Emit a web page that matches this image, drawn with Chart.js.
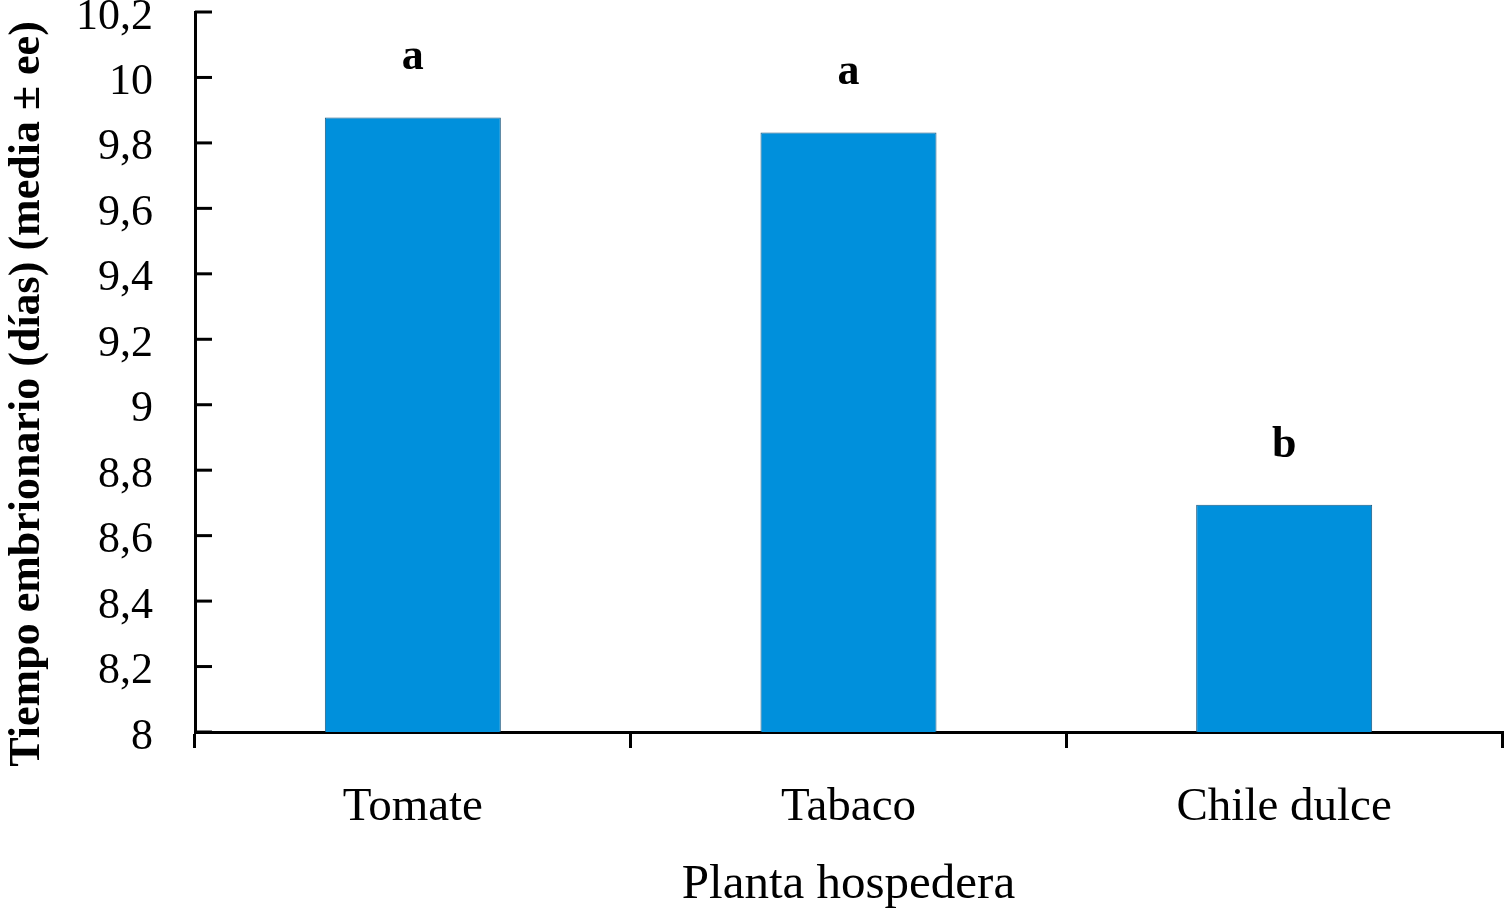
<!DOCTYPE html>
<html>
<head>
<meta charset="utf-8">
<script src="https://cdn.jsdelivr.net/npm/chart.js@4/dist/chart.umd.min.js"></script>
<style>
  body { margin: 0; background: #fff; }
</style>
</head>
<body>
<canvas id="myChart" width="1504" height="910"></canvas>
<script>
// datos
var plantas = ["Tomate", "Tabaco", "Chile dulce"];
var tiempoMedio = [9.878, 9.832, 8.694];
var letras = ["a", "a", "b"];
var yMin = 8, yMax = 10.2, yPaso = 0.2;
var tituloY = "Tiempo embrionario (días) (media ± ee)";

var fuente = "'Liberation Serif', 'DejaVu Serif', serif";

// marcas del eje y hacia adentro + titulo del eje y
var ejeY = {
  id: "ejeY",
  afterDraw: function (chart) {
    var ctx = chart.ctx;
    var y = chart.scales.y;
    ctx.save();
    ctx.strokeStyle = "#000";
    ctx.lineWidth = 3;
    y.ticks.forEach(function (t) {
      var py = y.getPixelForValue(t.value);
      ctx.beginPath();
      ctx.moveTo(y.right, py);
      ctx.lineTo(y.right + 17, py);
      ctx.stroke();
    });
    // titulo rotado, un poco mas abajo que el centro del eje
    ctx.translate(28, 394);
    ctx.rotate(-Math.PI / 2);
    ctx.fillStyle = "#000";
    ctx.font = "bold 44px " + fuente;
    ctx.textAlign = "center";
    ctx.textBaseline = "middle";
    ctx.fillText(tituloY, 0, 0);
    ctx.restore();
  }
};

// letras de significancia sobre las barras
var letrasBarras = {
  id: "letrasBarras",
  afterDatasetsDraw: function (chart) {
    var ctx = chart.ctx;
    var meta = chart.getDatasetMeta(0);
    ctx.save();
    ctx.fillStyle = "#000";
    ctx.font = "bold 44px " + fuente;
    ctx.textAlign = "center";
    ctx.textBaseline = "alphabetic";
    meta.data.forEach(function (bar, i) {
      ctx.fillText(letras[i], bar.x, bar.y - 48);
    });
    ctx.restore();
  }
};

new Chart("myChart", {
  type: "bar",
  data: {
    labels: plantas,
    datasets: [{
      data: tiempoMedio,
      backgroundColor: "#0090dc",
      borderColor: "#1d5a80",
      borderWidth: 1,
      categoryPercentage: 1,
      barPercentage: 0.404
    }]
  },
  options: {
    responsive: false,
    animation: false,
    layout: { padding: { top: 12, right: 2, left: 0, bottom: 0 } },
    plugins: {
      legend: { display: false },
      tooltip: { enabled: false }
    },
    scales: {
      x: {
        offset: true,
        grid: {
          offset: true,
          drawOnChartArea: false,
          drawTicks: true,
          tickLength: 16,
          color: "#000",
          lineWidth: 3
        },
        border: { display: true, color: "#000", width: 3 },
        ticks: {
          color: "#000",
          padding: 31,
          font: { family: fuente, size: 47 }
        },
        title: {
          display: true,
          text: "Planta hospedera",
          color: "#000",
          padding: { top: 10, bottom: -5 },
          font: { family: fuente, size: 49 }
        },
        afterFit: function (s) { s.height = 178; }
      },
      y: {
        min: yMin,
        max: yMax,
        grid: { display: false },
        border: { display: true, color: "#000", width: 3 },
        ticks: {
          stepSize: yPaso,
          color: "#000",
          padding: 34,
          labelOffset: 5,
          font: { family: fuente, size: 44 },
          callback: function (v) {
            return String(Number(v.toFixed(1))).replace(".", ",");
          }
        },
        title: { display: false },
        afterFit: function (s) {
          s.width = 195;
          s.paddingTop = 0;
          s.paddingBottom = 0;
        }
      }
    }
  },
  plugins: [ejeY, letrasBarras]
});
</script>
</body>
</html>
